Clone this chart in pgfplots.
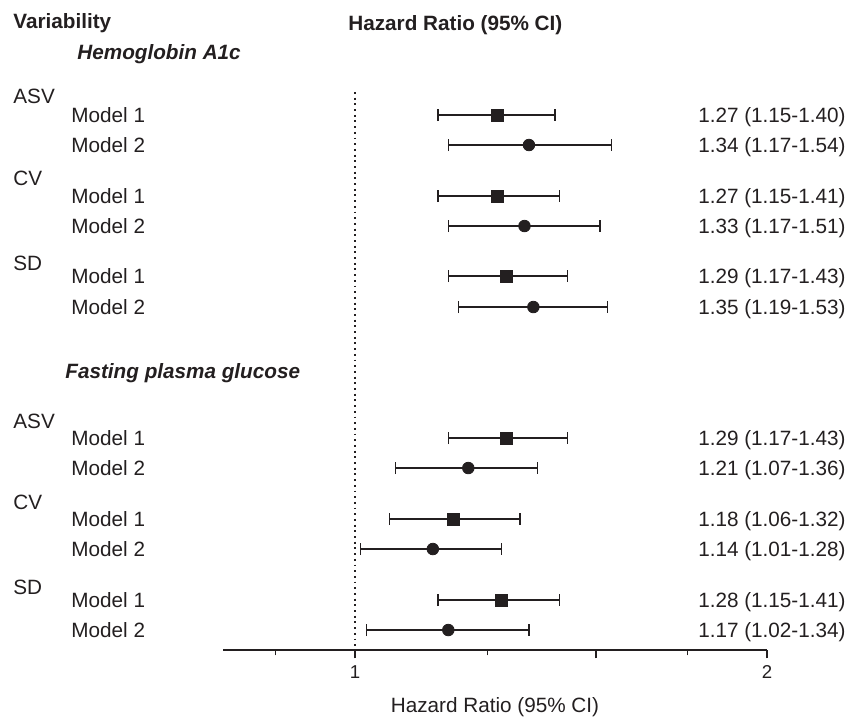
\documentclass[border=0pt]{standalone}
\usepackage{fontspec}
\setmainfont{Liberation Sans}
\usepackage{pgfplots}
\usepackage{pgfplotstable}
\pgfplotsset{compat=1.18}

\definecolor{ink}{HTML}{231F20}

% row position (pixel row), hazard ratio, lower and upper CI
\pgfplotstableread{
row hr lo hi
115 1.27 1.15 1.40
196 1.27 1.15 1.41
276 1.29 1.17 1.43
438 1.29 1.17 1.43
519 1.18 1.06 1.32
600 1.28 1.15 1.41
}\modelone
\pgfplotstableread{
row hr lo hi
145 1.34 1.17 1.54
226 1.33 1.17 1.51
307 1.35 1.19 1.53
468 1.21 1.07 1.36
549 1.14 1.01 1.28
630 1.17 1.02 1.34
}\modeltwo

\begin{document}
\begin{tikzpicture}[x=0.4831pt,y=-0.4831pt]
\path (0,0) rectangle (849,718);
\begin{axis}[
    at={(223*0.4831pt,-650*0.4831pt)}, anchor=south west,
    scale only axis,
    width=544*0.4831pt, height=650*0.4831pt,
    xmode=log, xmin=0.801, xmax=2,
    ymin=0, ymax=650, y dir=reverse,
    axis x line=bottom, axis y line=none,
    x axis line style={-, line width=0.7pt, color=ink},
    xtick={1,1.5,2}, xticklabels={1,,2},
    minor xtick={0.875,1.25,1.75},
    tick align=outside,
    major tick length=4pt, minor tick length=2.6pt,
    tick style={line width=0.6pt, color=ink},
    xticklabel style={font=\small, text=ink},
    /pgf/number format/assume math mode=true,
    clip=false,
    error bars/error bar style={line width=0.6pt, color=ink},
    error bars/error mark options={rotate=90, mark size=6*0.4831pt, line width=0.6pt, color=ink},
  ]
  \draw[ink, line width=1pt, dash pattern=on 0.9pt off 1.85pt] (axis cs:1,92) -- (axis cs:1,650);
  \addplot[only marks, mark=square*, mark size=2.9pt, color=ink,
    error bars/.cd, x dir=both, x explicit]
    table[x=hr, y=row, x error plus expr=\thisrow{hi}-\thisrow{hr}, x error minus expr=\thisrow{hr}-\thisrow{lo}] {\modelone};
  \addplot[only marks, mark=*, mark size=2.8pt, color=ink,
    error bars/.cd, x dir=both, x explicit]
    table[x=hr, y=row, x error plus expr=\thisrow{hi}-\thisrow{hr}, x error minus expr=\thisrow{hr}-\thisrow{lo}] {\modeltwo};
\end{axis}

\begin{scope}[every node/.style={inner sep=0pt, text=ink}]
\node[anchor=base west] at (13,28.5) {\bfseries Variability};
\node[anchor=base west] at (348,30) {\bfseries Hazard Ratio (95\% CI)};
\node[anchor=base west] at (77,59) {\bfseries\itshape Hemoglobin A1c};
\node[anchor=base west] at (65,378) {\bfseries\itshape Fasting plasma glucose};

\foreach \lab/\yy in {ASV/103, CV/185.5, SD/270.5, ASV/428, CV/509, SD/594}
  \node[anchor=base west] at (13,\yy) {\lab};
\foreach \yy in {115,196,276,438,519,600}
  \node[anchor=base west] at (71,\yy+7.4) {Model 1};
\foreach \yy in {145,226,307,468,549,630}
  \node[anchor=base west] at (71,\yy+7.4) {Model 2};

\foreach \txt/\yy in {
  1.27 (1.15-1.40)/115, 1.34 (1.17-1.54)/145,
  1.27 (1.15-1.41)/196, 1.33 (1.17-1.51)/226,
  1.29 (1.17-1.43)/276, 1.35 (1.19-1.53)/307,
  1.29 (1.17-1.43)/438, 1.21 (1.07-1.36)/468,
  1.18 (1.06-1.32)/519, 1.14 (1.01-1.28)/549,
  1.28 (1.15-1.41)/600, 1.17 (1.02-1.34)/630}
  \node[anchor=base east] at (846,\yy+7.4) {\txt};

\node[anchor=base] at (495,712) {Hazard Ratio (95\% CI)};
\end{scope}
\end{tikzpicture}
\end{document}
